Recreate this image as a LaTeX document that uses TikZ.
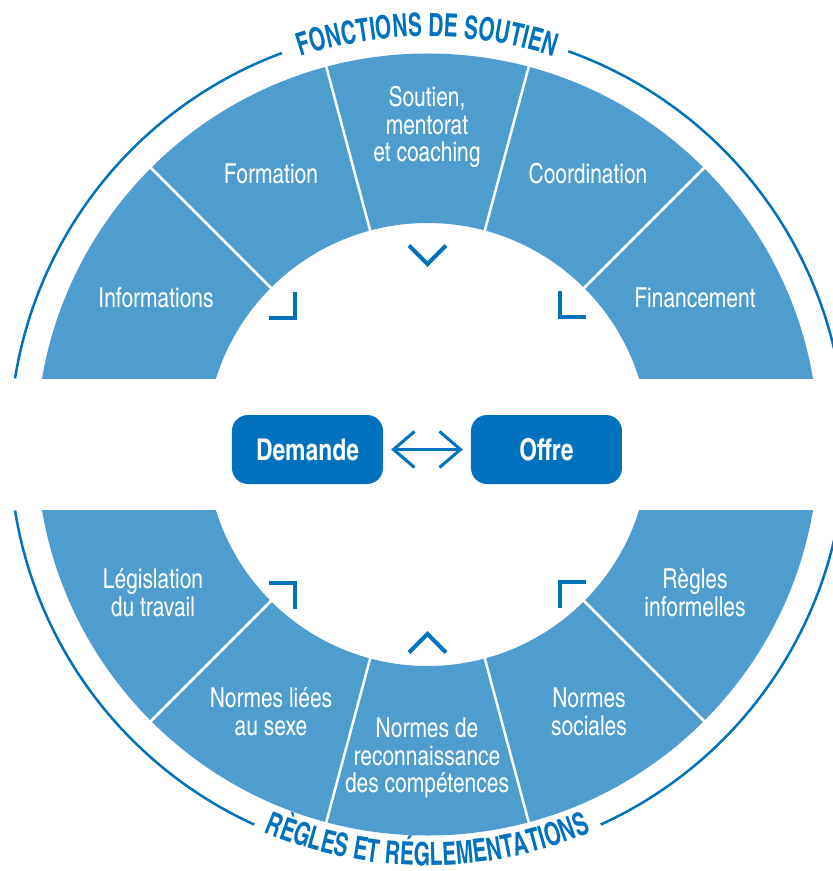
\documentclass[tikz,border=0pt]{standalone}
\usepackage{fontspec}
\setmainfont{texgyreheroscn}[Extension=.otf,UprightFont=*-regular,BoldFont=*-bold,FakeStretch=0.93]
\newfontfamily\titlecn{texgyreheroscn}[Extension=.otf,UprightFont=*-bold,FakeStretch=0.8]
\usetikzlibrary{arrows.meta,decorations.text}
\definecolor{segblue}{RGB}{79,157,207}
\definecolor{ringblue}{RGB}{0,113,188}
\newcommand\titlefont{\color{ringblue}\titlecn\fontsize{32}{32}\selectfont}

\begin{document}
\begin{tikzpicture}[x=1pt,y=1pt,
    seglabel/.style={text=white,align=center,font=\fontsize{27.5}{27.8}\selectfont},
    marketbox/.style={fill=ringblue,text=white,rounded corners=16pt,minimum width=151pt,
      minimum height=69pt,font=\bfseries\fontsize{30}{30}\selectfont},
    chevron/.style={ringblue,line width=4pt},
    ring/.style={ringblue,line width=2.5pt},
    sepline/.style={white,line width=2.5pt}]
  \useasboundingbox (-427.5,-426.5) rectangle (405.5,444.5);
  % Outer ring
  \draw[ring] (110.4:417.7pt) arc[start angle=110.4,end angle=170.9,radius=417.7pt];
  \draw[ring] (70.3:417.7pt) arc[start angle=70.3,end angle=9.1,radius=417.7pt];
  \draw[ring] (189.1:417.7pt) arc[start angle=189.1,end angle=245.5,radius=417.7pt];
  \draw[ring] (294.5:417.7pt) arc[start angle=294.5,end angle=350.9,radius=417.7pt];
  % Segments
  \begin{scope}
    \clip (-430,66) rectangle (430,430);
    \fill[segblue,even odd rule] (0,0) circle (391pt) (0,0) circle (221.5pt);
  \end{scope}
  \begin{scope}
    \clip (-430,-66) rectangle (430,-430);
    \fill[segblue,even odd rule] (0,0) circle (391pt) (0,0) circle (221.5pt);
  \end{scope}
  \foreach \a in {45,75,105,135,225,255,285,315}
    \draw[sepline] (\a:220pt) -- (\a:393pt);
  % Labels
  \node[seglabel] (informations) at (-271.5,146.5) {Informations};
  \node[seglabel] (formation) at (-156.5,270.5) {Formation};
  \node[seglabel] (soutien) at (-0.5,317.5) {Soutien,\\mentorat\\et coaching};
  \node[seglabel] (coordination) at (160.5,270.5) {Coordination};
  \node[seglabel] (financement) at (267.5,146.5) {Financement};
  \node[seglabel] (legislation) at (-274.5,-148.5) {Législation\\du travail};
  \node[seglabel] (normessexe) at (-156.5,-267.5) {Normes liées\\au sexe};
  \node[seglabel] (normescomp) at (-0.5,-313.5) {Normes de\\reconnaissance\\des compétences};
  \node[seglabel] (normessoc) at (161.5,-267.5) {Normes\\sociales};
  \node[seglabel] (reglesinf) at (267.5,-148.5) {Règles\\informelles};
  % Titles
  \path[decorate,decoration={text along path,text align=center,
      text={|\titlefont|FONCTIONS DE SOUTIEN}}]
    (125:408pt) arc[start angle=125,end angle=55,radius=408pt];
  \path[decorate,decoration={text along path,text align=center,
      text={|\titlefont|RÈGLES ET RÉGLEMENTATIONS}}]
    (235:421pt) arc[start angle=235,end angle=305,radius=421pt];
  % Market
  \node[marketbox] (demande) at (-120,-5) {Demande};
  \node[marketbox] (offre) at (119,-5) {Offre};
  \draw[ringblue,line width=3pt,
    {Straight Barb[length=21pt,width=36pt]}-{Straight Barb[length=21pt,width=36pt]},
    shorten <=8pt,shorten >=8pt] (demande) -- (offre);
  % Chevrons
  \foreach \tx/\ty/\rot in {0/180.5/0,-132.5/126.5/45,132.5/127.5/-45,
      0/-189.5/180,-132.5/-138.5/135,132.5/-137.5/-135}
    \draw[chevron,shift={(\tx,\ty)},rotate=\rot] (-18.4,18.4) -- (0,0) -- (18.4,18.4);
\end{tikzpicture}
\end{document}
